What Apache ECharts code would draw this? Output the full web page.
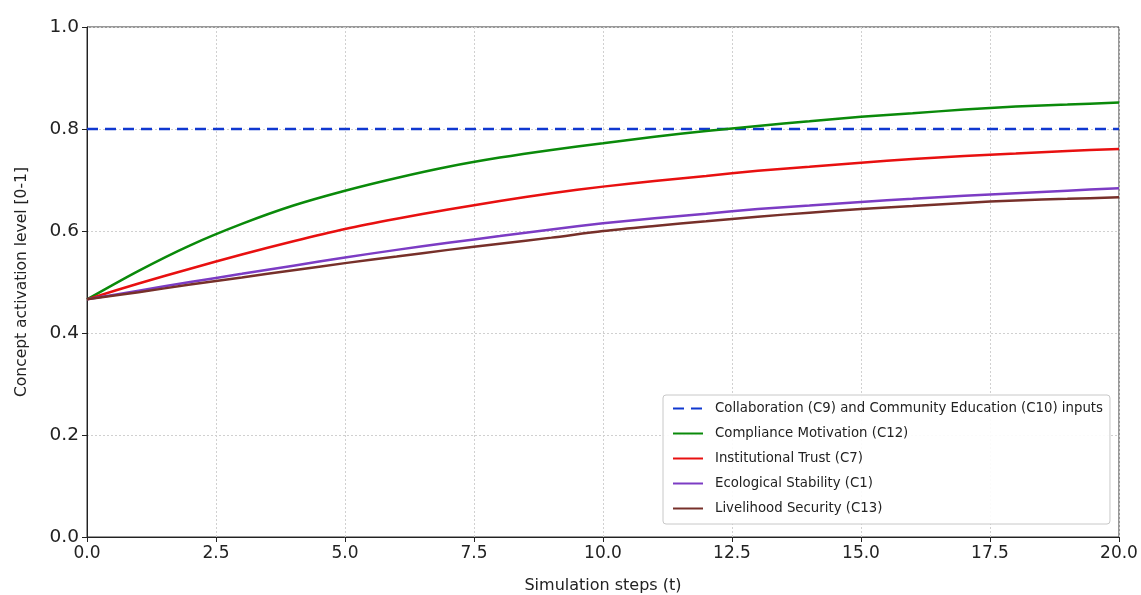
<!DOCTYPE html>
<html>
<head>
<meta charset="utf-8">
<script src="https://cdn.jsdelivr.net/npm/echarts@6/dist/echarts.min.js"></script>
<style>
  html, body { margin: 0; padding: 0; background: #fff; }
  #chart { width: 1141px; height: 595px; }
</style>
</head>
<body>
<div id="chart"></div>
<script>
// simulation steps
const steps = [0, 1, 2, 3, 4, 5, 6, 7, 8, 9, 10, 11, 12, 13, 14, 15, 16, 17, 18, 19, 20]

// constant input level (C9, C10)
const inputSteps = [0, 20]
const inputLevel = [0.8, 0.8]

// concept activation levels
const compliance = [0.466, 0.522, 0.572, 0.614, 0.650, 0.679, 0.704, 0.726, 0.744, 0.759, 0.772,
  0.785, 0.796, 0.806, 0.815, 0.824, 0.831, 0.838, 0.844, 0.848, 0.852]
const trust = [0.466, 0.497, 0.526, 0.554, 0.580, 0.604, 0.624, 0.642, 0.659, 0.674, 0.687,
  0.698, 0.708, 0.718, 0.726, 0.734, 0.741, 0.747, 0.752, 0.757, 0.761]
const ecological = [0.466, 0.483, 0.500, 0.516, 0.532, 0.548, 0.563, 0.577, 0.590, 0.603, 0.615,
  0.625, 0.634, 0.643, 0.650, 0.657, 0.663, 0.669, 0.674, 0.679, 0.684]
const livelihood = [0.466, 0.480, 0.495, 0.509, 0.523, 0.537, 0.550, 0.563, 0.575, 0.587, 0.600,
  0.610, 0.619, 0.628, 0.636, 0.643, 0.649, 0.655, 0.660, 0.663, 0.666]

const xTicks = { min: 0, max: 20, interval: 2.5 }
const yTicks = { min: 0, max: 1, interval: 0.2 }

const pair = (xs, ys) => xs.map((x, i) => [x, ys[i]])

const font = 'DejaVu Sans'

const curve = (name, xs, ys, color, dash) => ({
  name,
  type: 'line',
  data: pair(xs, ys),
  smooth: dash ? false : 0.3,
  symbol: 'none',
  animation: false,
  lineStyle: { color, width: 2.5, type: dash || 'solid' },
  itemStyle: { color }
})

const chart = echarts.init(document.getElementById('chart'))
chart.setOption({
  backgroundColor: '#ffffff',
  animation: false,
  grid: {
    left: 87, right: 22, top: 27, bottom: 58,
    outerBoundsMode: 'none',
    containLabel: false,
    show: true, borderColor: '#333', borderWidth: 1
  },
  legend: {
    orient: 'vertical',
    left: 663,
    top: 395,
    padding: [7, 7, 9, 9],
    itemGap: 12,
    itemWidth: 30,
    itemHeight: 14,
    itemStyle: { opacity: 0 },
    backgroundColor: 'rgba(255,255,255,0.9)',
    borderColor: '#c8c8c8',
    borderWidth: 1,
    borderRadius: 3,
    textStyle: { fontFamily: font, fontSize: 13.3, color: '#222', padding: [0, 0, 0, 7] },
    data: [
      'Collaboration (C9) and Community Education (C10) inputs',
      'Compliance Motivation (C12)',
      'Institutional Trust (C7)',
      'Ecological Stability (C1)',
      'Livelihood Security (C13)'
    ]
  },
  xAxis: {
    type: 'value',
    min: xTicks.min,
    max: xTicks.max,
    interval: xTicks.interval,
    name: 'Simulation steps (t)',
    nameLocation: 'middle',
    nameGap: 41,
    nameTextStyle: { fontFamily: font, fontSize: 16, color: '#222' },
    axisLine: { show: true, onZero: false, lineStyle: { color: '#222', width: 1 } },
    axisTick: { show: true, length: 5, lineStyle: { color: '#222' } },
    axisLabel: {
      fontFamily: font, fontSize: 17, color: '#222', margin: 8,
      formatter: (v) => v.toFixed(1)
    },
    splitLine: { show: true, lineStyle: { color: '#d0d0d0', type: [2, 2], width: 1 } }
  },
  yAxis: {
    type: 'value',
    min: yTicks.min,
    max: yTicks.max,
    interval: yTicks.interval,
    name: 'Concept activation level [0-1]',
    nameLocation: 'middle',
    nameGap: 57,
    nameTextStyle: { fontFamily: font, fontSize: 15.5, color: '#222' },
    axisLine: { show: true, lineStyle: { color: '#222', width: 1 } },
    axisTick: { show: true, length: 5, lineStyle: { color: '#222' } },
    axisLabel: {
      fontFamily: font, fontSize: 18.5, color: '#222', margin: 8,
      formatter: (v) => v.toFixed(1)
    },
    splitLine: { show: true, lineStyle: { color: '#d0d0d0', type: [2, 2], width: 1 } }
  },
  series: [
    curve('Collaboration (C9) and Community Education (C10) inputs', inputSteps, inputLevel, '#1038d0', [11, 7]),
    curve('Compliance Motivation (C12)', steps, compliance, '#0a8a0a'),
    curve('Institutional Trust (C7)', steps, trust, '#e81010'),
    curve('Ecological Stability (C1)', steps, ecological, '#7c3cc4'),
    curve('Livelihood Security (C13)', steps, livelihood, '#77302a')
  ]
})
</script>
</body>
</html>
